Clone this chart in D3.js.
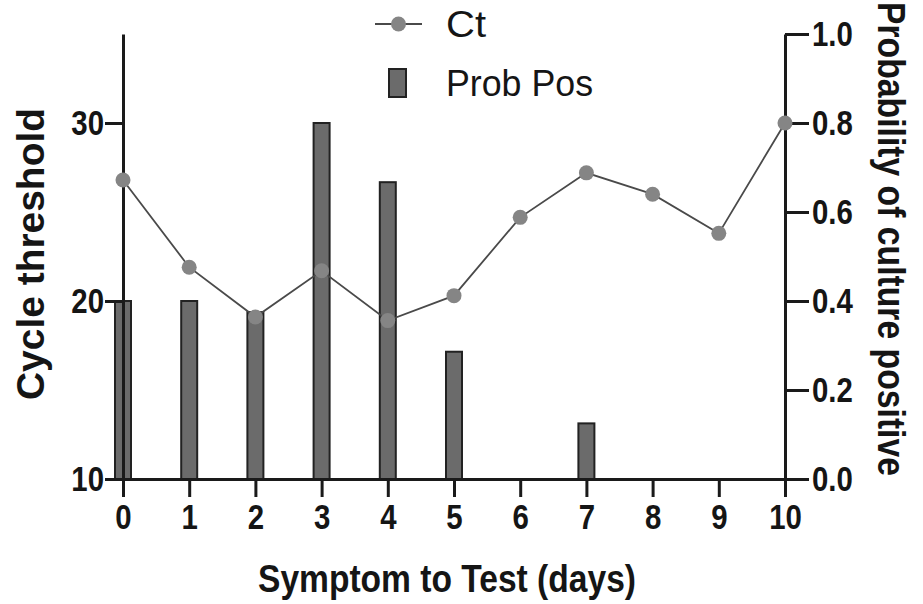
<!DOCTYPE html>
<html>
<head>
<meta charset="utf-8">
<script src="https://cdn.jsdelivr.net/npm/d3@7"></script>
<style>
  body { margin: 0; background: #fff; }
  text { font-family: "Liberation Sans", Arial, sans-serif; fill: #151515; }
  .axis path, .axis line { stroke: #1a1a1a; stroke-width: 3; }
  .axis text { font-size: 35px; font-weight: bold; }
</style>
</head>
<body>
<script>
// data
var days = [0, 1, 2, 3, 4, 5, 6, 7, 8, 9, 10];
var ct = [26.8, 21.9, 19.1, 21.7, 18.9, 20.3, 24.7, 27.2, 26.0, 23.8, 30.0];
var probPos = [0.4, 0.4, 0.375, 0.8, 0.667, 0.286, 0, 0.125, 0, 0, 0];
var leftTicks = [10, 20, 30];
var rightTicks = [0, 0.2, 0.4, 0.6, 0.8, 1.0];

var width = 923, height = 604;
var x0 = 123, x1 = 785, yTop = 34, yBottom = 479;

var svg = d3.select("body").append("svg")
    .attr("width", width)
    .attr("height", height);

var xScale = d3.scaleLinear().domain([0, 10]).range([x0, x1]);
var yLeft = d3.scaleLinear().domain([10, 35]).range([yBottom, yTop]);
var yRight = d3.scaleLinear().domain([0, 1]).range([yBottom, yTop]);

// bars (probability, right axis)
svg.append("g").selectAll("rect")
    .data(days.filter(function(d, i) { return probPos[i] > 0; }))
    .enter().append("rect")
    .attr("x", function(d) { return xScale(d) - 8; })
    .attr("y", function(d) { return yRight(probPos[d]); })
    .attr("width", 16)
    .attr("height", function(d) { return yBottom - yRight(probPos[d]); })
    .attr("fill", "#6b6b6b")
    .attr("stroke", "#222")
    .attr("stroke-width", 2);

// axes
svg.append("g")
    .attr("class", "axis")
    .attr("transform", "translate(0," + yBottom + ")")
    .call(d3.axisBottom(xScale).tickValues(days).tickSize(18).tickSizeOuter(0).tickPadding(7));

svg.append("g")
    .attr("class", "axis")
    .attr("transform", "translate(" + x0 + ",0)")
    .call(d3.axisLeft(yLeft).tickValues(leftTicks).tickSize(18).tickSizeOuter(0).tickPadding(1));

svg.append("g")
    .attr("class", "axis")
    .attr("transform", "translate(" + x1 + ",0)")
    .call(d3.axisRight(yRight).tickValues(rightTicks).tickSize(24).tickSizeOuter(0).tickPadding(3)
        .tickFormat(d3.format(".1f")));

// narrow the tick labels a little, like the condensed face of the original
svg.selectAll(".axis .tick text").each(function() {
  var w = this.getComputedTextLength();
  d3.select(this).attr("textLength", w * 0.84).attr("lengthAdjust", "spacingAndGlyphs");
});

// Ct line
var line = d3.line()
    .x(function(d, i) { return xScale(days[i]); })
    .y(function(d) { return yLeft(d); });

svg.append("path")
    .datum(ct)
    .attr("d", line)
    .attr("fill", "none")
    .attr("stroke", "#4a4a4a")
    .attr("stroke-width", 1.8);

svg.append("g").selectAll("circle")
    .data(ct)
    .enter().append("circle")
    .attr("cx", function(d, i) { return xScale(days[i]); })
    .attr("cy", function(d) { return yLeft(d); })
    .attr("r", 7.5)
    .attr("fill", "#858585");

// axis titles
svg.append("text")
    .attr("transform", "translate(44,254) rotate(-90)")
    .attr("text-anchor", "middle")
    .attr("font-size", 38)
    .attr("font-weight", "bold")
    .attr("textLength", 292)
    .attr("lengthAdjust", "spacingAndGlyphs")
    .text("Cycle threshold");

svg.append("text")
    .attr("transform", "translate(878,239) rotate(90)")
    .attr("text-anchor", "middle")
    .attr("font-size", 38)
    .attr("font-weight", "bold")
    .attr("textLength", 474)
    .attr("lengthAdjust", "spacingAndGlyphs")
    .text("Probability of culture positive");

svg.append("text")
    .attr("x", 447)
    .attr("y", 592)
    .attr("text-anchor", "middle")
    .attr("font-size", 38)
    .attr("font-weight", "bold")
    .attr("textLength", 378)
    .attr("lengthAdjust", "spacingAndGlyphs")
    .text("Symptom to Test (days)");

// legend
var legend = svg.append("g");
legend.append("line")
    .attr("x1", 375).attr("x2", 422).attr("y1", 24).attr("y2", 24)
    .attr("stroke", "#4a4a4a").attr("stroke-width", 1.8);
legend.append("circle")
    .attr("cx", 398.5).attr("cy", 24).attr("r", 7.5)
    .attr("fill", "#858585");
legend.append("text")
    .attr("x", 446).attr("y", 37)
    .attr("font-size", 36)
    .attr("textLength", 40)
    .attr("lengthAdjust", "spacingAndGlyphs")
    .text("Ct");
legend.append("rect")
    .attr("x", 389).attr("y", 69).attr("width", 17).attr("height", 28)
    .attr("fill", "#6b6b6b").attr("stroke", "#222").attr("stroke-width", 2);
legend.append("text")
    .attr("x", 446).attr("y", 96)
    .attr("font-size", 36)
    .attr("textLength", 147)
    .attr("lengthAdjust", "spacingAndGlyphs")
    .text("Prob Pos");
</script>
</body>
</html>
